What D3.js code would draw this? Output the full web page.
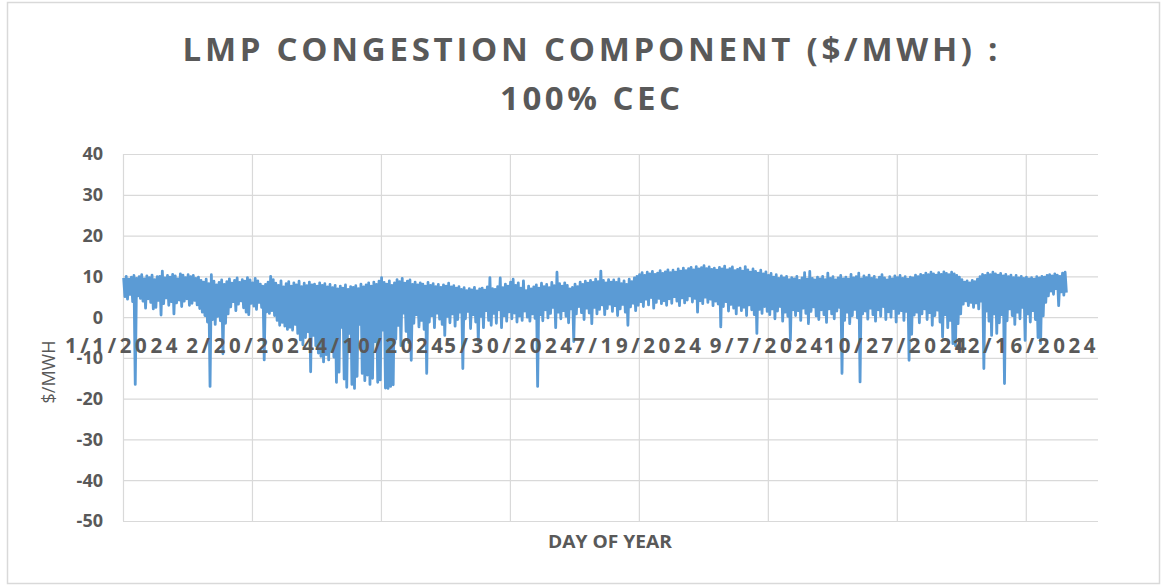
<!DOCTYPE html>
<html>
<head>
<meta charset="utf-8">
<script src="https://cdn.jsdelivr.net/npm/d3@7"></script>
<style>
  body { margin: 0; background: #fff; }
  svg { display: block; font-family: "Open Sans", "Liberation Sans", sans-serif; }
</style>
</head>
<body>
<div id="chart"></div>
<script>
// titles and axis text
const titleLines = ["LMP CONGESTION COMPONENT ($/MWH) :", "100% CEC"];
const yTitle = "$/MWH";
const xTitle = "DAY OF YEAR";

// x axis: one label every 50 days
const tickDays = [0, 50, 100, 150, 200, 250, 300, 350];
const tickLabels = ["1/1/2024", "2/20/2024", "4/10/2024", "5/30/2024",
  "7/19/2024", "9/7/2024", "10/27/2024", "12/16/2024"];
const yTicks = [40, 30, 20, 10, 0, -10, -20, -30, -40, -50];

// daily high of the congestion component ($/MWh)
const dailyMax = [
  9.6, 10.0, 9.3, 9.8, 10.2, 9.5, 9.9, 10.4, 9.4, 10.1,
  9.7, 10.3, 9.2, 9.9, 10.0, 11.3, 9.6, 10.2, 9.8, 10.5,
  10.1, 9.4, 10.6, 10.3, 9.7, 10.4, 9.9, 10.2, 9.5, 9.8,
  9.0, 8.6, 9.3, 8.2, 10.4, 8.8, 7.9, 8.5, 9.1, 8.0,
  8.7, 9.4, 8.3, 9.0, 9.6, 8.5, 9.2, 8.8, 9.7, 9.1,
  8.4, 9.5, 8.9, 8.1, 7.6, 8.0, 8.6, 10.0, 9.2, 8.3,
  7.8, 8.9, 7.4, 8.2, 8.7, 7.6, 8.4, 7.9, 8.8, 7.5,
  8.3, 7.7, 8.6, 7.9, 8.1, 7.6, 8.4, 7.8, 8.2, 7.4,
  8.0, 7.2, 7.8, 6.9, 7.6, 7.1, 7.9, 6.8, 7.5, 7.3,
  7.7, 7.0, 8.1, 7.4, 7.9, 8.4, 7.6, 8.6, 8.0, 8.8,
  9.7, 8.5, 8.1, 8.9, 7.8, 8.4, 9.2, 8.7, 9.5, 8.3,
  8.8, 9.1, 8.0, 8.6, 7.9, 8.4, 8.1, 7.6, 8.5, 7.8,
  8.2, 7.5, 8.0, 7.3, 7.9, 7.6, 8.3, 7.4, 7.7, 7.1,
  7.5, 6.8, 7.2, 6.5, 7.0, 6.7, 7.3, 6.4, 6.9, 7.1,
  6.6, 7.4, 9.7, 7.0, 6.8, 7.5, 9.6, 7.2, 8.1, 7.6,
  8.6, 9.3, 7.8, 8.4, 7.1, 8.9, 6.5, 7.6, 6.9, 7.4,
  7.9, 7.1, 8.3, 7.5, 8.0, 7.2, 8.5, 7.7, 11.0, 8.2,
  7.6, 8.4, 7.8, 6.9, 7.3, 8.1, 7.5, 8.6, 8.0, 8.8,
  8.3, 9.0, 8.5, 9.3, 8.7, 11.3, 9.0, 8.4, 9.2, 8.6,
  9.1, 8.5, 9.4, 8.2, 8.9, 8.0, 9.3, 8.7, 9.6, 10.0,
  10.4, 10.9, 10.2, 11.0, 10.6, 11.2, 10.5, 10.8, 11.4, 10.7,
  11.1, 11.6, 10.9, 11.5, 11.0, 11.8, 11.3, 12.0, 11.4, 11.9,
  12.2, 11.6, 12.4, 11.8, 12.1, 12.6, 11.9, 12.3, 11.7, 12.0,
  11.5, 12.2, 11.8, 12.5, 11.6, 11.9, 12.3, 11.4, 11.7, 12.0,
  11.3, 12.4, 11.6, 11.0, 11.8, 11.2, 10.8, 11.5, 10.6, 11.1,
  10.2, 10.7, 9.8, 10.4, 9.5, 10.1, 9.6, 10.0, 9.2, 9.7,
  9.4, 10.0, 9.0, 9.6, 10.9, 9.3, 11.2, 9.5, 9.1, 9.8,
  9.4, 10.0, 9.2, 10.8, 9.5, 9.9, 9.1, 9.6, 10.2, 9.4,
  9.8, 9.3, 10.5, 9.6, 9.9, 10.8, 9.4, 10.1, 9.7, 10.3,
  9.5, 10.0, 9.2, 9.8, 10.4, 9.6, 9.1, 9.9, 9.4, 10.1,
  9.7, 10.2, 9.5, 9.9, 9.3, 9.8, 9.6, 10.3, 9.9, 10.5,
  10.2, 10.8, 10.4, 11.0, 10.6, 10.3, 10.9, 10.5, 11.1, 10.7,
  10.4, 11.0, 10.6, 10.2, 9.8, 9.2, 8.6, 8.9, 8.4, 9.0,
  8.7, 9.3, 9.9, 10.5, 10.2, 10.8, 10.4, 11.0, 10.6, 10.3,
  10.7, 10.1, 10.5, 9.9, 10.3, 9.7, 10.2, 9.6, 10.0, 9.5,
  9.8, 9.4, 9.7, 9.3, 9.9, 9.6, 10.0, 9.8, 10.2, 10.4,
  10.1, 10.6, 10.3, 10.0, 10.8, 11.0
];

// daily low of the congestion component ($/MWh)
const dailyMin = [
  5.0, 4.4, 5.6, 3.8, -16.5, 5.2, 4.6, 3.9, 2.2, 4.5,
  3.6, 2.0, 2.4, 4.1, 0.5, 3.3, 4.7, 2.9, 3.8, 0.8,
  3.5, 4.2, 2.6, 3.9, 4.5, 2.9, 3.4, 4.1, 3.0, 2.1,
  1.2, 0.4, -1.2, -17.0, -0.6, -1.8, 0.2, -0.9, -9.0, -1.5,
  0.8, 2.5, 3.8, 1.6, 3.2, 4.0, 2.3, 1.2, 0.6, 3.4,
  2.7, 1.9, 3.6, 2.4, -10.5, 1.3, 0.9, 1.6, 0.4, -0.8,
  -2.0, -1.3, -2.2, -3.0, -2.5, -3.2, -1.8, -4.0, -5.6, -6.8,
  -5.0, -3.6, -13.4, -4.5, -7.0, -8.8, -9.6, -11.0, -9.2, -10.5,
  -8.4, -9.8, -16.0, -13.5, -2.5, -15.2, -17.2, -4.0, -16.5, -17.5,
  -14.5, -1.8, -13.8, -15.6, -14.2, -16.5, -15.0, -6.0, -16.0, -15.4,
  -3.2, -17.4, -17.5, -17.0, -16.6, -5.4, -2.0, -7.0, 1.0, -3.5,
  -6.2, -10.6, -1.5, 0.6, -2.4, -0.8, -3.0, -13.8, -1.2, 0.4,
  -2.6, 1.0, -0.5, -1.8, -4.5, 0.2, -1.4, 0.8, -2.2, -0.6,
  1.2, -12.6, -0.4, 1.4, -2.8, 0.6, -1.2, -6.0, 0.2, -2.6,
  1.6, -0.8, -2.0, 0.9, -1.5, 1.8, -2.6, 0.4, -1.0, 1.3,
  -0.4, 1.0, -1.2, 0.3, -0.8, 1.5, 0.0, -1.0, 0.8, -0.3,
  -17.0, 0.6, -0.9, 1.8, -0.2, 0.9, 2.4, -2.6, 1.2, -0.4,
  1.6, 0.2, -1.4, 2.0, -6.0, 0.8, 2.6, 1.1, -0.6, 2.2,
  1.0, -1.6, 2.4, 0.8, 1.9, 3.0, 0.6, 2.1, 3.2, 1.4,
  2.8, 0.4, 2.0, 3.1, 1.2, -2.0, 2.5, 3.4, 1.6, 2.9,
  3.8, 2.6, 4.4, 3.0, 4.8, 2.2, 3.6, 4.6, 3.3, 4.0,
  2.9, 4.5, 3.4, 5.0, 3.9, 2.8, 4.7, 3.5, 4.2, 5.2,
  3.7, 4.6, 1.2, 4.0, 3.3, 4.9, 3.6, 4.4, 2.8, 3.9,
  3.2, -2.4, 2.6, 3.8, 1.5, 3.1, 2.2, 0.8, 2.9, 1.6,
  2.4, 0.4, 3.0, 1.8, 0.6, -4.0, 1.9, 0.9, 2.6, 1.4,
  0.6, 2.0, -0.4, 1.5, 2.6, -1.0, 1.2, 0.2, -5.7, 1.8,
  0.4, 1.6, -0.8, 2.2, 0.9, -1.6, 1.4, 2.5, 0.3, -0.6,
  1.8, 0.6, -1.3, 2.0, 0.8, -0.4, 1.5, 2.4, -13.8, -0.8,
  1.2, -1.6, 0.4, 1.9, -0.2, -15.9, 0.8, 1.5, -0.5, 2.2,
  0.6, -1.0, 1.8, 0.2, 2.6, -0.6, 1.3, 0.0, 2.1, -1.2,
  0.9, 1.6, -0.8, 1.4, -10.6, -4.2, 0.5, 1.2, -1.4, 0.8,
  2.0, -0.6, 1.1, -2.0, 0.4, 1.7, -1.2, -4.9, 0.6, -2.6,
  -0.8, -6.5, -7.0, -1.6, 0.8, 3.2, 4.0, 2.8, 3.6, 2.4,
  3.5, 2.0, 3.9, -12.6, 1.5, -1.0, -4.5, 0.8, -4.0, -1.4,
  0.6, -16.3, -0.9, 2.0, 0.4, -1.8, 1.2, -0.4, 2.4, -5.7,
  0.8, -1.2, 1.6, -0.6, -5.0, -6.5, 0.3, 3.6, 5.2, 6.4,
  5.6, 7.0, 2.8, 6.2, 5.4, 6.0
];

const W = 1165, H = 585;
const m = { top: 154, right: 67, bottom: 64, left: 123 };
const grey = "#595959";
const gridColor = "#d9d9d9";

const svg = d3.select("#chart").append("svg")
  .attr("width", W)
  .attr("height", H);

// chart border
svg.append("rect")
  .attr("x", 7.5).attr("y", 2.5)
  .attr("width", 1152).attr("height", 581)
  .attr("fill", "#fff")
  .attr("stroke", gridColor)
  .attr("stroke-width", 1.5);

const x = d3.scaleLinear().domain([0, 378]).range([m.left, W - m.right]);
const y = d3.scaleLinear().domain([-50, 40]).range([H - m.bottom, m.top]);

// horizontal gridlines
svg.append("g")
  .attr("transform", `translate(${m.left},0)`)
  .call(d3.axisLeft(y).tickValues(yTicks).tickSize(-(W - m.right - m.left)).tickFormat(""))
  .call((g) => g.select(".domain").remove())
  .call((g) => g.selectAll("line").attr("stroke", gridColor).attr("stroke-width", 1.2));

// vertical gridlines at every labelled day
svg.append("g")
  .attr("transform", `translate(0,${H - m.bottom})`)
  .call(d3.axisBottom(x).tickValues(tickDays).tickSize(-(H - m.bottom - m.top)).tickFormat(""))
  .call((g) => g.select(".domain").remove())
  .call((g) => g.selectAll("line").attr("stroke", gridColor).attr("stroke-width", 1.2));

// y tick labels
svg.append("g")
  .selectAll("text")
  .data(yTicks)
  .enter()
  .append("text")
  .attr("x", 103)
  .attr("y", (d) => y(d))
  .attr("dy", "0.36em")
  .attr("text-anchor", "end")
  .attr("fill", grey)
  .attr("font-size", 18)
  .attr("font-weight", "bold")
  .text((d) => d);

// series: each day drawn as its high then its low
const points = [];
dailyMax.forEach((hi, i) => {
  points.push({ day: i + 0.25, value: hi });
  points.push({ day: i + 0.75, value: dailyMin[i] });
});

svg.append("path")
  .datum(points)
  .attr("fill", "none")
  .attr("stroke", "#5b9bd5")
  .attr("stroke-width", 2.8)
  .attr("stroke-linejoin", "round")
  .attr(
    "d",
    d3.line()
      .x((d) => x(d.day))
      .y((d) => y(d.value))
  );

// category labels sit on the zero line
svg.append("g")
  .selectAll("text")
  .data(tickDays)
  .enter()
  .append("text")
  .attr("x", (d) => x(d))
  .attr("y", y(0) + 36)
  .attr("text-anchor", "middle")
  .attr("fill", grey)
  .attr("font-size", 20.5)
  .attr("font-weight", "bold")
  .style("letter-spacing", "3.6px")
  .text((d, i) => tickLabels[i]);

// title
svg.append("text")
  .attr("x", 590).attr("y", 61)
  .attr("text-anchor", "middle")
  .attr("fill", grey)
  .attr("font-size", 33)
  .attr("font-weight", "bold")
  .attr("textLength", 815)
  .attr("lengthAdjust", "spacing")
  .text(titleLines[0]);

svg.append("text")
  .attr("x", 590).attr("y", 110)
  .attr("text-anchor", "middle")
  .attr("fill", grey)
  .attr("font-size", 33)
  .attr("font-weight", "bold")
  .attr("textLength", 180)
  .attr("lengthAdjust", "spacing")
  .text(titleLines[1]);

// axis titles
svg.append("text")
  .attr("transform", "translate(55,372) rotate(-90)")
  .attr("text-anchor", "middle")
  .attr("fill", grey)
  .attr("font-size", 18)
  .text(yTitle);

svg.append("text")
  .attr("x", 610).attr("y", 548)
  .attr("text-anchor", "middle")
  .attr("fill", grey)
  .attr("font-size", 18)
  .attr("font-weight", "bold")
  .attr("textLength", 124)
  .attr("lengthAdjust", "spacingAndGlyphs")
  .text(xTitle);
</script>
</body>
</html>
